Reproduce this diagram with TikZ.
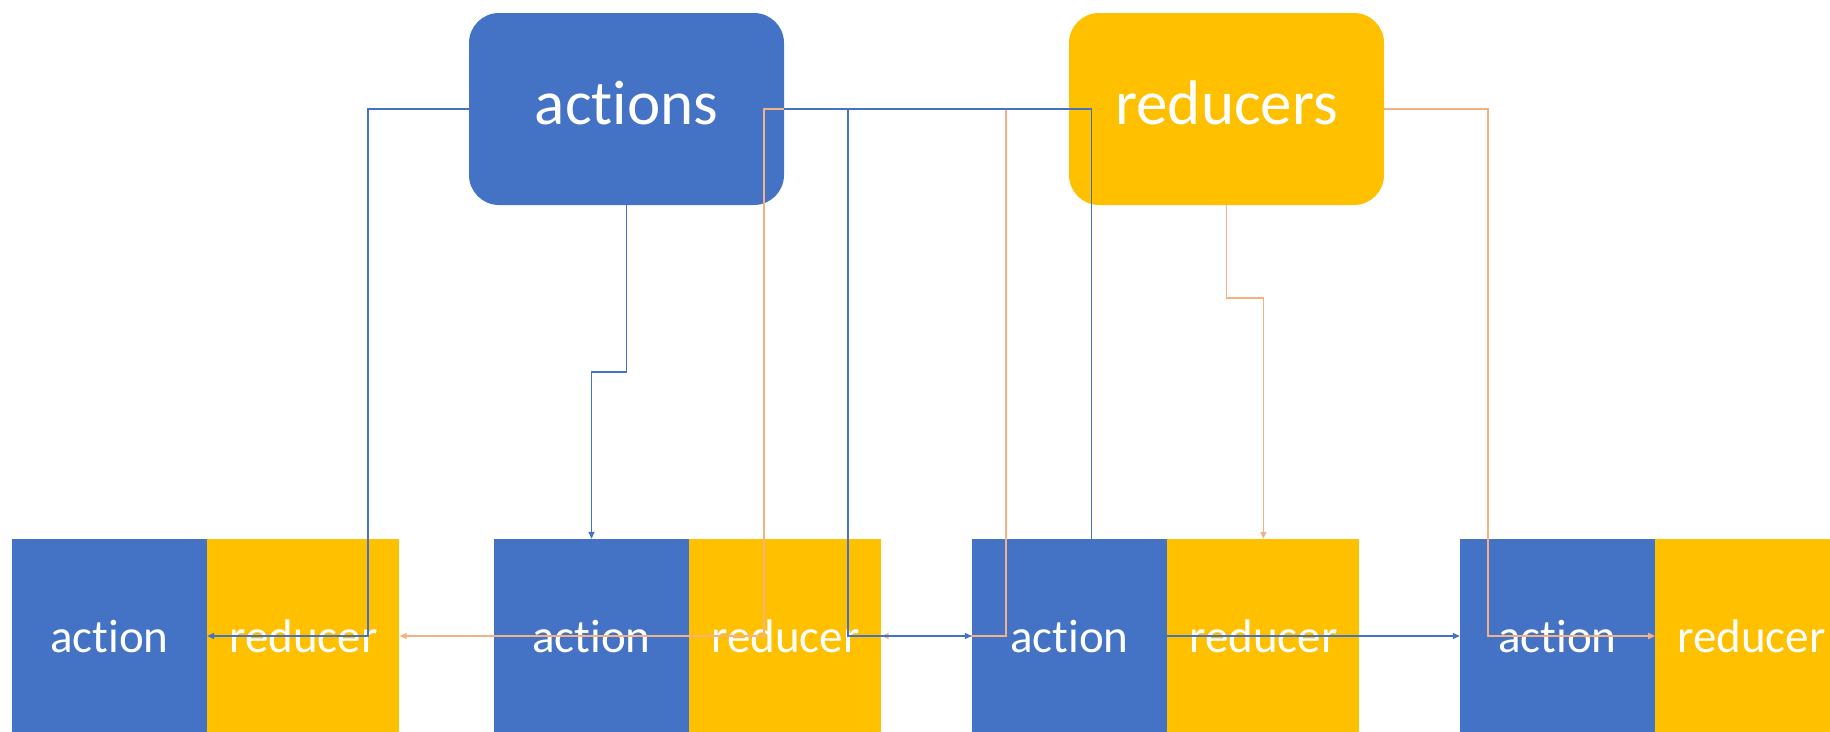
\documentclass[tikz,border=0pt]{standalone}
\usepackage{fontspec}
\setmainfont{Carlito}[Ligatures=NoCommon]
\usetikzlibrary{positioning,arrows.meta}
\definecolor{actblue}{HTML}{4472C4}
\definecolor{redyellow}{HTML}{FFC000}
\definecolor{redline}{HTML}{F4B183}

\begin{document}
\begin{tikzpicture}[x=1pt,y=-1pt,
  bigbox/.style={rounded corners=30pt,minimum width=315pt,minimum height=192pt,inner sep=0pt,text=white,text height=40pt,text depth=10pt,font=\fontsize{63}{70}\selectfont},
  actbox/.style={fill=actblue,minimum width=195pt,minimum height=194pt,inner sep=0pt,text=white,font=\fontsize{47}{52}\selectfont},
  redbox/.style={actbox,fill=redyellow,minimum width=192pt},
  bluewire/.style={draw=actblue,line width=1.6pt},
  orangewire/.style={draw=redline,line width=1.6pt},
  tip/.style={-{Triangle[length=7pt,width=6pt]}}]
\clip (0,0) rectangle (1830,731);
\node[bigbox,fill=actblue] (actions) at (626.5,109) {actions};
\node[bigbox,fill=redyellow] (reducers) at (1226.5,109) {reducers};
\foreach \i/\x in {1/109.5,2/591.5,3/1069.5,4/1557.5} {
  \node[actbox] (action\i) at (\x,636) {action};
  \node[redbox,right=0pt of action\i] (reducer\i) {reducer};
}
\draw[orangewire,tip] (reducers.west) -- ++(-305,0) |- (reducer1.east);
\draw[orangewire,tip] (reducers.west) -- ++(-63,0) |- (reducer2.east);
\draw[orangewire,tip] (reducers.south) -- ++(0,93) -| (reducer3.north);
\draw[orangewire,tip] (reducers.east) -- ++(104,0) |- (reducer4.west);
\draw[bluewire,tip] (actions.west) -- ++(-101,0) |- (action1.east);
\draw[bluewire,tip] (actions.south) -- ++(0,167) -| (action2.north);
\draw[bluewire,tip] (actions.east) -- ++(64,0) |- (action3.west);
\draw[bluewire] (actions.east) -| ([xshift=22pt]action3.north);
\draw[bluewire,tip] (action3.east) -- (action4.west);
\end{tikzpicture}
\end{document}
